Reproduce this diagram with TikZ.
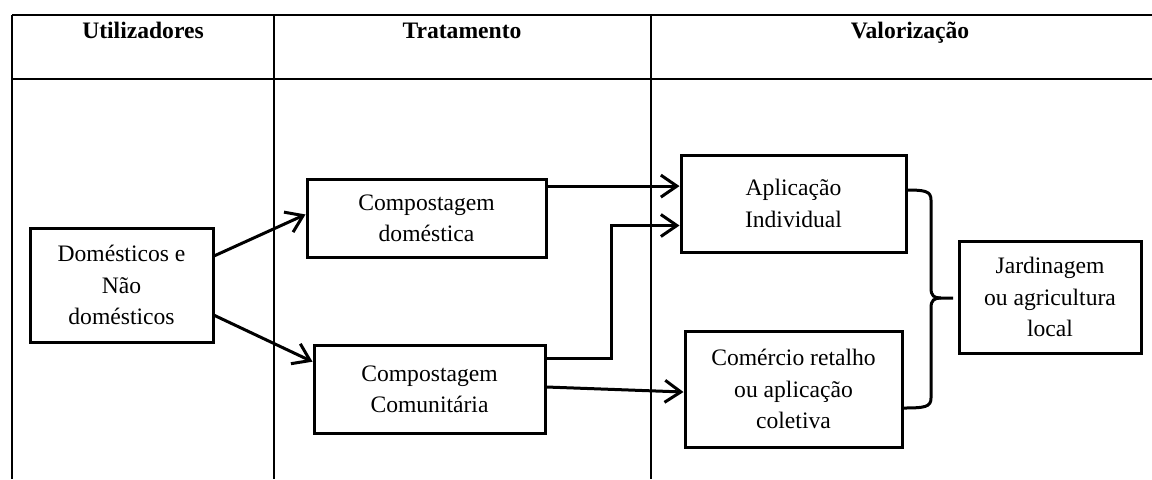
\documentclass[tikz,border=0pt]{standalone}
\usepackage{fontspec}
\setmainfont{Liberation Serif}
\usepackage{tikz}
\usetikzlibrary{arrows.meta,positioning,calc}
\tikzstyle{block} = [rectangle, draw=black, line width=1.5pt, align=center,
    inner sep=0pt, font=\fontsize{11.8}{15.7}\selectfont]
\tikzstyle{header} = [font=\fontsize{11.8}{15.7}\selectfont\bfseries, inner sep=0pt, anchor=base]
\tikzstyle{arrow} = [-{Straight Barb[length=8pt,width=11pt]}, line width=1.5pt]
\tikzstyle{rule} = [line width=1.2pt]
\tikzstyle{colline} = [line width=0.8pt]
\tikzstyle{brace} = [line width=1.5pt]

\begin{document}
\begin{tikzpicture}[x=0.5pt,y=-0.5pt]
\useasboundingbox (0,0) rectangle (1152,479);
% table grid
\draw[rule] (12,15) -- (1152,15);
\draw[rule] (12,79) -- (1152,79);
\draw[rule] (12,15) -- (12,479);
\draw[colline] (274,15) -- (274,479);
\draw[colline] (651,15) -- (651,479);
\node[header] (hutil) at (143,38) {Utilizadores};
\node[header] (htrat) at (462,38) {Tratamento};
\node[header] (hval) at (910,38) {Valorização};

\node[block, minimum width=91.5pt, minimum height=57pt] (dom) at (121.5,285) {Domésticos e\\Não\\domésticos};
\node[block, minimum width=119.5pt, minimum height=39pt] (cdom) at (426.5,218.5) {Compostagem\\doméstica};
\node[block, minimum width=115.5pt, minimum height=44pt] (ccom) at (429.5,389) {Compostagem\\Comunitária};
\node[block, minimum width=112.5pt, minimum height=48.5pt] (aplind) at (793.5,203.5) {Aplicação\\Individual};
\node[block, minimum width=108.5pt, minimum height=58pt] (comret) at (793.5,389) {Comércio retalho\\ou aplicação\\coletiva};
\node[block, minimum width=91pt, minimum height=56pt] (jard) at (1050,297) {Jardinagem\\ou agricultura\\local};

\draw[arrow] ($(dom.north east)!0.25!(dom.south east)$) -- ($(cdom.north west)!0.45!(cdom.south west)$);
\draw[arrow] ($(dom.north east)!0.76!(dom.south east)$) -- ($(ccom.north west)!0.2!(ccom.south west)$);
\draw[arrow] ($(cdom.north east)!0.1!(cdom.south east)$) coordinate (c1) -- (c1 -| aplind.west);
\draw[arrow] ($(ccom.north east)!0.17!(ccom.south east)$) -- ++(65,0) |- ($(aplind.north west)!0.72!(aplind.south west)$);
\draw[arrow] ($(ccom.east)+(0,-2)$) -- ($(comret.west)+(0,3)$);

% brace
\draw[brace] (906,190) .. controls (925,190) and (931,191) .. (931,200) -- (931,288)
  .. controls (931,296) and (934,298) .. (941,298) -- (953,298);
\draw[brace] (941,298) .. controls (934,298) and (931,300) .. (931,308) -- (931,398)
  .. controls (931,407) and (925,408) .. (903,408);
\end{tikzpicture}
\end{document}
